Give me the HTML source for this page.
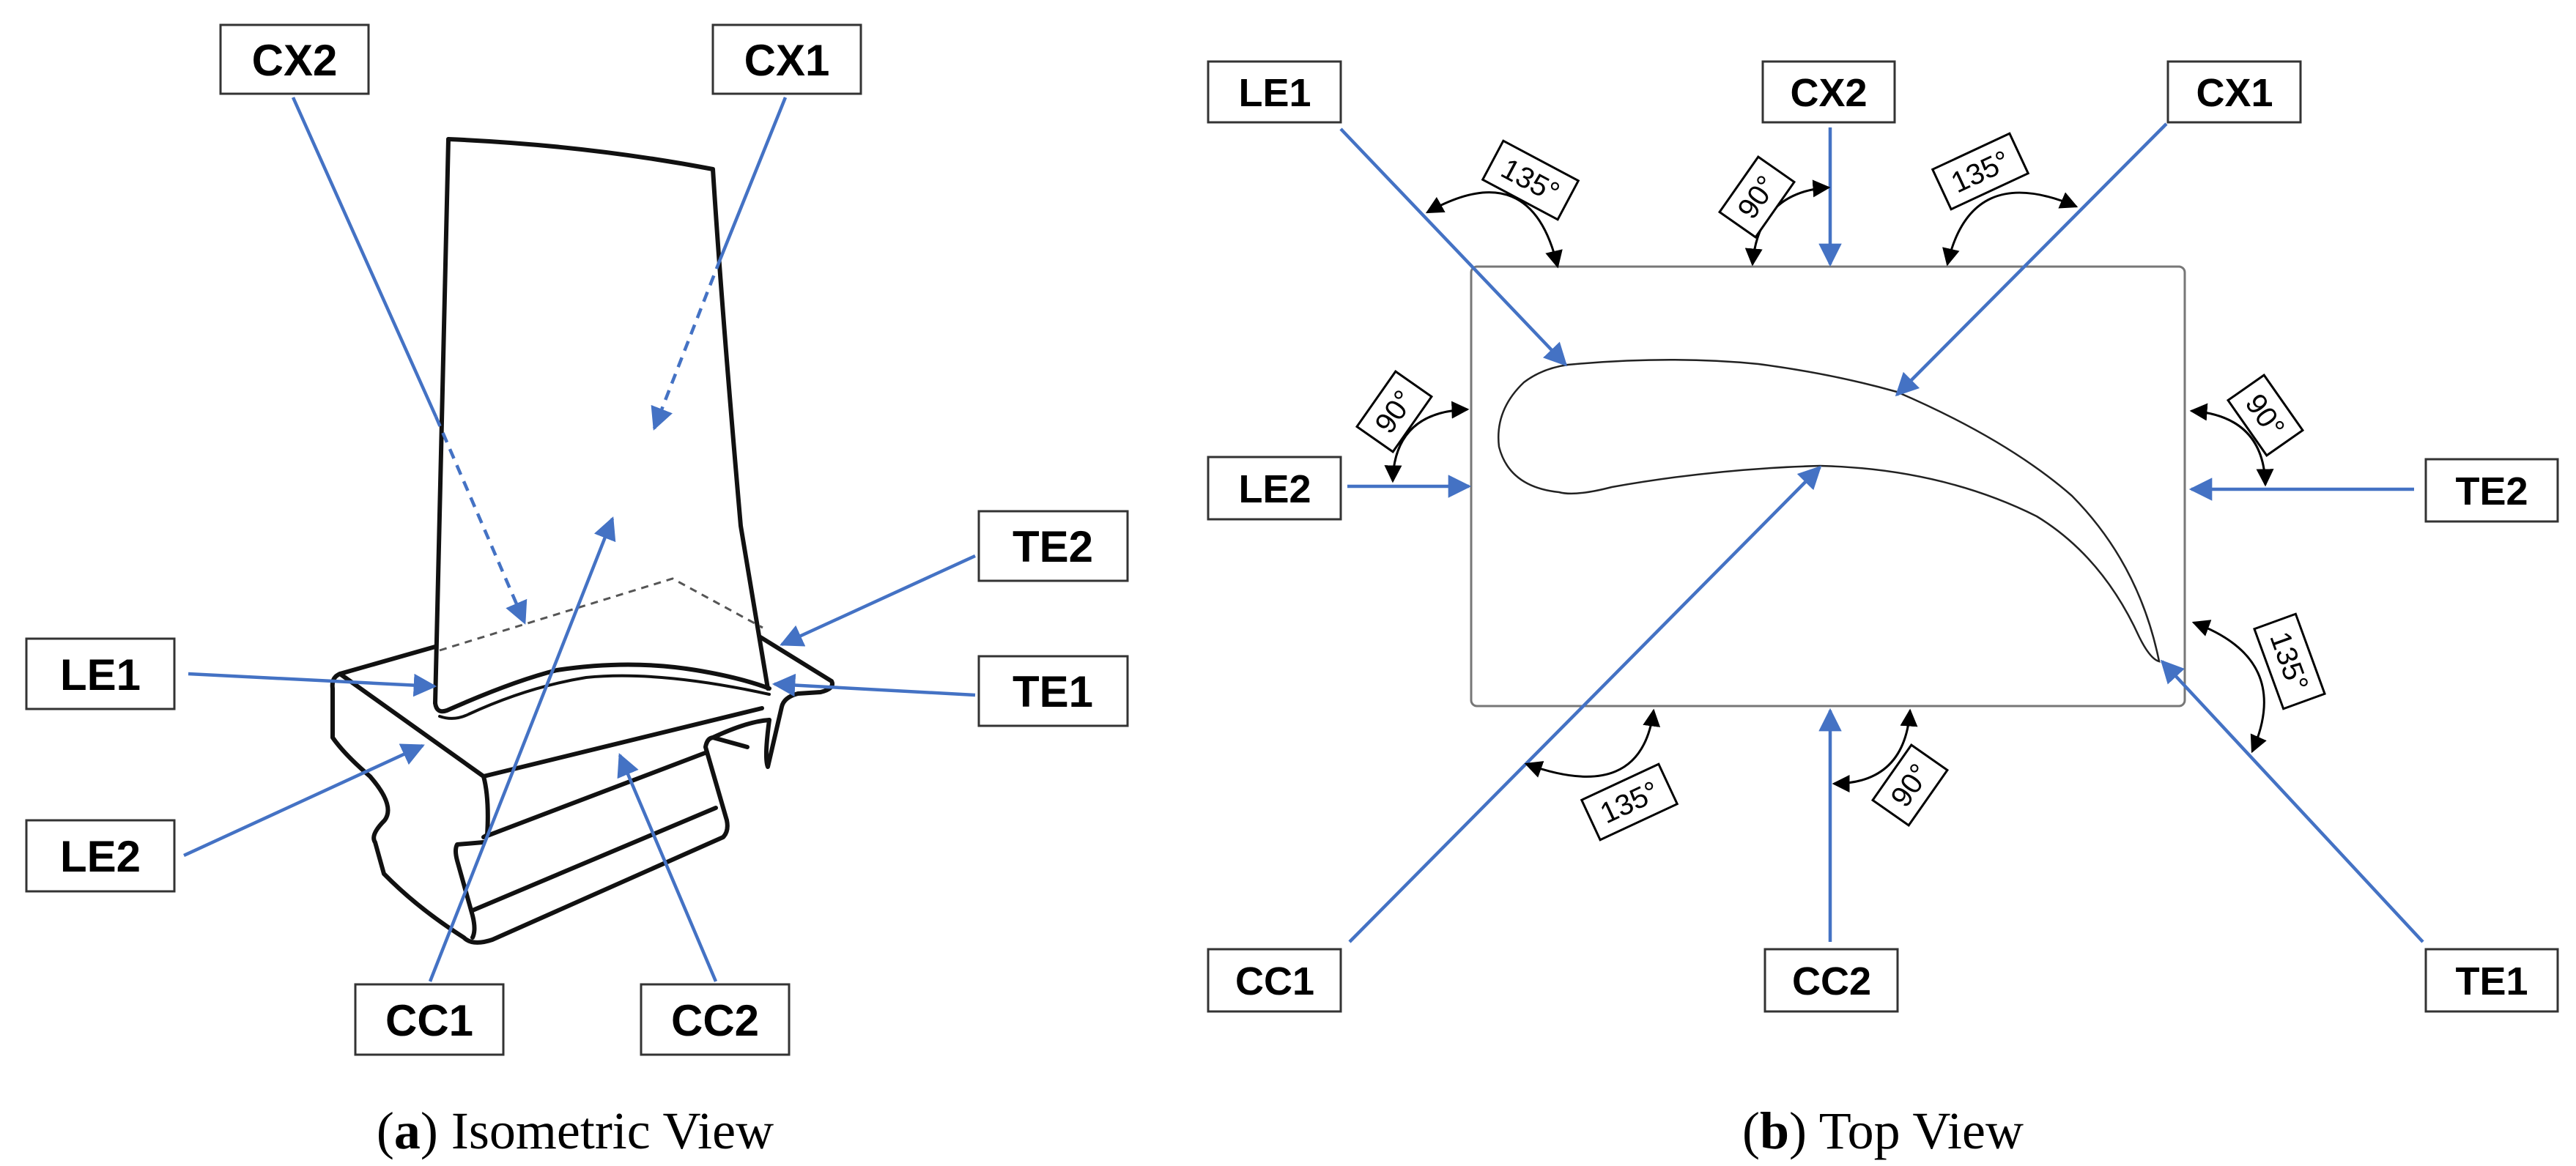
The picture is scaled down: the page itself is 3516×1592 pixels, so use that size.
<!DOCTYPE html>
<html><head><meta charset="utf-8"><style>
html,body{margin:0;padding:0;background:#fff}
svg{display:block}
.lb{font-family:"Liberation Sans",sans-serif;font-weight:bold;text-anchor:middle}
.ang{font-family:"Liberation Sans",sans-serif;font-size:40px;text-anchor:middle}
.cap{font-family:"Liberation Serif",serif;font-size:72px;text-anchor:middle}
</style></head><body>
<svg width="3516" height="1592" viewBox="0 0 3516 1592" xmlns="http://www.w3.org/2000/svg">
<defs>
<marker id="ba" viewBox="0 0 10 10" refX="9" refY="5" markerWidth="7" markerHeight="7" orient="auto-start-reverse" markerUnits="strokeWidth"><path d="M0,0 L10,5 L0,10 z" fill="#4472c4"/></marker>
<marker id="ka" viewBox="0 0 10 10" refX="9" refY="5" markerWidth="8" markerHeight="8" orient="auto-start-reverse" markerUnits="strokeWidth"><path d="M0,0 L10,5 L0,10 z" fill="#000"/></marker>
</defs>
<rect width="3516" height="1592" fill="#fff"/>

<g fill="none" stroke="#111" stroke-width="6" stroke-linejoin="round" stroke-linecap="round">
  <path d="M612,190 Q800,198 973,231 Q985,420 1011,718 L1048,940"/>
  <path d="M612,190 Q605,560 594,960"/>
  <path d="M594,960 Q596,975 610,970 Q700,930 760,915 Q860,900 950,915 Q1010,925 1050,940"/>
  <path d="M600,978 Q620,985 640,975 Q720,938 800,925 Q900,915 1050,948" stroke-width="4"/>
  <path d="M464,920 L594,883"/>
  <path d="M1038,870 L1135,930 Q1140,940 1120,945 L1089,947 Q1070,952 1067,965 L1048,1047 Q1043,1035 1050,983"/>
  <path d="M464,920 L660,1060 L1040,967"/>
  <path d="M464,920 Q452,925 454,940 L454,1007 Q470,1030 505,1060 Q540,1100 525,1120 Q505,1140 512,1150 L524,1193 Q570,1240 633,1280 Q645,1292 672,1283 L987,1143 Q995,1135 992,1120 L963,1020 Q965,1008 973,1007 L1020,1020"/>
  <path d="M1050,983 Q1020,985 973,1007"/>
  <path d="M660,1060 Q668,1090 665,1140 L660,1143 L965,1027"/>
  <path d="M660,1150 L624,1153 Q620,1160 624,1175 L645,1250 Q650,1270 645,1280"/>
  <path d="M645,1243 L977,1103"/>
</g>
<path d="M600,888 L918,790 L1041,857" fill="none" stroke="#555" stroke-width="3" stroke-dasharray="10,8"/>

<g stroke="#4472c4" stroke-width="4.5" fill="none">
  <line x1="400" y1="133" x2="595" y2="569"/>
  <line x1="595" y1="569" x2="716" y2="850" stroke-dasharray="14,10" marker-end="url(#ba)"/>
  <line x1="1072" y1="133" x2="983" y2="354"/>
  <line x1="983" y1="354" x2="893" y2="585" stroke-dasharray="14,10" marker-end="url(#ba)"/>
  <line x1="1331" y1="759" x2="1067" y2="880" marker-end="url(#ba)"/>
  <line x1="1331" y1="949" x2="1057" y2="934" marker-end="url(#ba)"/>
  <line x1="257" y1="920" x2="593" y2="937" marker-end="url(#ba)"/>
  <line x1="251" y1="1168" x2="577" y2="1018" marker-end="url(#ba)"/>
  <line x1="587" y1="1340" x2="836" y2="708" marker-end="url(#ba)"/>
  <line x1="977" y1="1340" x2="846" y2="1031" marker-end="url(#ba)"/>
</g>

<g fill="#fff" stroke="#333" stroke-width="3">
  <rect x="301" y="34" width="202" height="94"/>
  <rect x="973" y="34" width="202" height="94"/>
  <rect x="1336" y="698" width="203" height="95"/>
  <rect x="1336" y="896" width="203" height="95"/>
  <rect x="36" y="872" width="202" height="96"/>
  <rect x="36" y="1120" width="202" height="97"/>
  <rect x="485" y="1344" width="202" height="96"/>
  <rect x="875" y="1344" width="202" height="96"/>
</g>
<g class="lb" font-size="60">
  <text x="402" y="103">CX2</text>
  <text x="1074" y="103">CX1</text>
  <text x="1437" y="767">TE2</text>
  <text x="1437" y="965">TE1</text>
  <text x="137" y="942">LE1</text>
  <text x="137" y="1190">LE2</text>
  <text x="586" y="1414">CC1</text>
  <text x="976" y="1414">CC2</text>
</g>
<text class="cap" x="785" y="1568">(<tspan font-weight="bold">a</tspan>) Isometric View</text>

<rect x="2008" y="364" width="974" height="600" rx="8" fill="none" stroke="#777" stroke-width="3"/>
<path d="M2140,498 Q2280,485 2400,497 Q2500,510 2589,535 Q2740,600 2828,677 Q2920,770 2947,903 Q2935,900 2920,870 Q2870,760 2780,705 Q2650,640 2484,636 Q2340,640 2200,665 Q2150,678 2128,672 Q2060,665 2046,610 Q2040,560 2080,522 Q2105,503 2140,498 Z" fill="none" stroke="#222" stroke-width="2.5"/>

<g stroke="#4472c4" stroke-width="4.5" fill="none">
  <line x1="1830" y1="176" x2="2137" y2="498" marker-end="url(#ba)"/>
  <line x1="2498" y1="174" x2="2498" y2="361" marker-end="url(#ba)"/>
  <line x1="2957" y1="169" x2="2589" y2="539" marker-end="url(#ba)"/>
  <line x1="1839" y1="664" x2="2005" y2="664" marker-end="url(#ba)"/>
  <line x1="3295" y1="668" x2="2991" y2="668" marker-end="url(#ba)"/>
  <line x1="1842" y1="1286" x2="2484" y2="638" marker-end="url(#ba)"/>
  <line x1="2498" y1="1286" x2="2498" y2="970" marker-end="url(#ba)"/>
  <line x1="3307" y1="1286" x2="2951" y2="903" marker-end="url(#ba)"/>
</g>

<g stroke="#000" stroke-width="3" fill="none">
  <path d="M1948,290 Q2090,210 2126,364" marker-start="url(#ka)" marker-end="url(#ka)"/>
  <path d="M2392,361 Q2400,262 2496,256" marker-start="url(#ka)" marker-end="url(#ka)"/>
  <path d="M2658,361 Q2690,220 2834,282" marker-start="url(#ka)" marker-end="url(#ka)"/>
  <path d="M1901,657 Q1903,562 2003,559" marker-start="url(#ka)" marker-end="url(#ka)"/>
  <path d="M2991,561 Q3090,568 3092,662" marker-start="url(#ka)" marker-end="url(#ka)"/>
  <path d="M2994,850 Q3130,900 3074,1026" marker-start="url(#ka)" marker-end="url(#ka)"/>
  <path d="M2083,1043 Q2240,1100 2257,970" marker-start="url(#ka)" marker-end="url(#ka)"/>
  <path d="M2503,1070 Q2600,1070 2607,970" marker-start="url(#ka)" marker-end="url(#ka)"/>
</g>
<g>
  <g transform="translate(2089,246) rotate(28)"><rect x="-58" y="-30" width="116" height="60" fill="#fff" stroke="#000" stroke-width="3"/><text class="ang" y="14">135°</text></g>
  <g transform="translate(2398,269) rotate(-55)"><rect x="-46" y="-30" width="92" height="60" fill="#fff" stroke="#000" stroke-width="3"/><text class="ang" y="14">90°</text></g>
  <g transform="translate(2703,234) rotate(-25)"><rect x="-58" y="-30" width="116" height="60" fill="#fff" stroke="#000" stroke-width="3"/><text class="ang" y="14">135°</text></g>
  <g transform="translate(1903,562) rotate(-55)"><rect x="-46" y="-30" width="92" height="60" fill="#fff" stroke="#000" stroke-width="3"/><text class="ang" y="14">90°</text></g>
  <g transform="translate(3092,567) rotate(55)"><rect x="-46" y="-30" width="92" height="60" fill="#fff" stroke="#000" stroke-width="3"/><text class="ang" y="14">90°</text></g>
  <g transform="translate(3125,903) rotate(70)"><rect x="-58" y="-30" width="116" height="60" fill="#fff" stroke="#000" stroke-width="3"/><text class="ang" y="14">135°</text></g>
  <g transform="translate(2224,1095) rotate(-25)"><rect x="-58" y="-30" width="116" height="60" fill="#fff" stroke="#000" stroke-width="3"/><text class="ang" y="14">135°</text></g>
  <g transform="translate(2607,1072) rotate(-55)"><rect x="-46" y="-30" width="92" height="60" fill="#fff" stroke="#000" stroke-width="3"/><text class="ang" y="14">90°</text></g>
</g>

<g fill="#fff" stroke="#333" stroke-width="3">
  <rect x="1649" y="84" width="181" height="83"/>
  <rect x="2406" y="84" width="180" height="83"/>
  <rect x="2959" y="84" width="181" height="83"/>
  <rect x="1649" y="624" width="181" height="85"/>
  <rect x="3311" y="627" width="180" height="85"/>
  <rect x="1649" y="1296" width="181" height="85"/>
  <rect x="2409" y="1296" width="181" height="85"/>
  <rect x="3311" y="1296" width="180" height="85"/>
</g>
<g class="lb" font-size="54">
  <text x="1740" y="145">LE1</text>
  <text x="2496" y="145">CX2</text>
  <text x="3050" y="145">CX1</text>
  <text x="1740" y="686">LE2</text>
  <text x="3401" y="689">TE2</text>
  <text x="1740" y="1358">CC1</text>
  <text x="2500" y="1358">CC2</text>
  <text x="3401" y="1358">TE1</text>
</g>
<text class="cap" x="2570" y="1568">(<tspan font-weight="bold">b</tspan>) Top View</text>
</svg>
</body></html>
